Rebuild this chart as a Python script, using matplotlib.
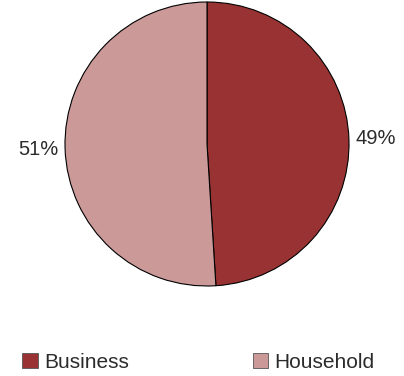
import matplotlib.pyplot as plt
from matplotlib.patches import Patch

plt.rcParams['font.family'] = ['Liberation Sans', 'DejaVu Sans']

categories = ["Business", "Household"]
shares = [49, 51]
colors = ["#993333", "#CC9999"]
text_color = "#2b2b2b"

fig = plt.figure(figsize=(4.04, 3.76), dpi=100)
ax = fig.add_axes([65 / 404, 90 / 376, 284 / 404, 284 / 376])

wedges, _, pct = ax.pie(
    shares, colors=colors, startangle=90, counterclock=False,
    radius=1.0, autopct='%1.0f%%', pctdistance=1.19,
    wedgeprops=dict(edgecolor="black", linewidth=0.8),
    textprops=dict(fontsize=14.5, color=text_color),
)
ax.set_xlim(-1, 1)
ax.set_ylim(-1, 1)
ax.set_aspect("equal")
ax.axis("off")

# square legend markers along the bottom
handles = [Patch(facecolor=c, edgecolor="#555555", linewidth=0.6) for c in colors]
fig.legend(handles, categories, loc="center left", bbox_to_anchor=(22 / 404, 14 / 376),
           ncol=2, frameon=False, fontsize=15, handlelength=0.75, handleheight=0.75,
           handletextpad=0.3, columnspacing=5.95, borderpad=0, borderaxespad=0,
           labelcolor=text_color)

fig.savefig("out.png", dpi=100)
